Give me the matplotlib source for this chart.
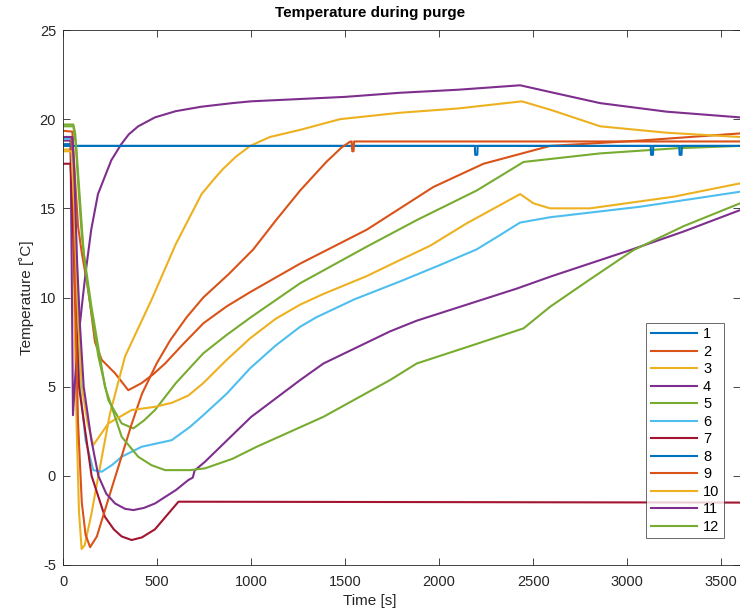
import matplotlib
matplotlib.use("Agg")
import matplotlib.pyplot as plt

plt.rcParams["font.family"] = ["Liberation Sans", "DejaVu Sans"]
plt.rcParams["axes.unicode_minus"] = False

# MATLAB default line colours
colours = ["#0072BD", "#D95319", "#EDB120", "#7E2F8E", "#77AC30",
           "#4DBEEE", "#A2142F"]

# sensor readings: time [s], temperature [C]
t1 = [0, 45, 50, 3600]
y1 = [18.6, 18.6, 18.5, 18.5]

t2 = [0, 50, 62, 80, 100, 135, 170, 206, 277, 347, 418, 480, 543, 640, 746,
      870, 995, 1261, 1615, 1970, 2236, 2590, 3069, 3600]
y2 = [19.35, 19.3, 17.0, 14.0, 12.5, 10.4, 7.5, 6.5, 5.75, 4.8, 5.2, 5.7,
      6.3, 7.4, 8.55, 9.5, 10.3, 11.9, 13.8, 16.2, 17.5, 18.5, 18.8, 19.2]

t3 = [0, 40, 50, 60, 72, 85, 99, 115, 150, 188, 250, 330, 472, 600, 737,
      800, 850, 920, 995, 1100, 1261, 1473, 1792, 2100, 2440, 2600, 2856,
      3210, 3600]
y3 = [18.3, 18.3, 16.0, 10.0, 3.0, -2.0, -4.1, -3.9, -2.2, 0.0, 3.5, 6.7,
      9.9, 13.0, 15.8, 16.6, 17.2, 17.9, 18.5, 19.0, 19.4, 20.0, 20.36,
      20.6, 21.0, 20.5, 19.6, 19.24, 19.0]

t4 = [0, 40, 46, 53, 65, 80, 100, 115, 124, 150, 186, 257, 310, 350, 400,
      489, 600, 737, 900, 1000, 1500, 1792, 2100, 2431, 2600, 2856, 3210,
      3600]
y4 = [18.8, 18.8, 12.0, 3.4, 5.5, 7.5, 9.5, 10.9, 11.7, 13.8, 15.8, 17.7,
      18.6, 19.15, 19.6, 20.1, 20.45, 20.7, 20.9, 21.0, 21.25, 21.48,
      21.65, 21.9, 21.5, 20.9, 20.42, 20.1]

t5 = [0, 55, 65, 80, 100, 133, 188, 241, 312, 374, 430, 489, 600, 746, 870,
      1000, 1261, 1615, 1881, 2200, 2449, 2856, 3264, 3600]
y5 = [19.7, 19.7, 19.2, 16.5, 13.5, 10.4, 6.7, 4.25, 2.94, 2.66, 3.1,
      3.69, 5.2, 6.87, 7.9, 8.9, 10.8, 12.85, 14.34, 16.0, 17.6, 18.08,
      18.37, 18.5]

t6 = [0, 45, 55, 70, 90, 120, 161, 206, 260, 312, 418, 578, 676, 746, 870,
      995, 1130, 1261, 1349, 1550, 1792, 2000, 2200, 2324, 2430, 2590, 3069,
      3600]
y6 = [18.9, 18.9, 16.0, 10.0, 5.0, 2.0, 0.32, 0.23, 0.6, 1.07, 1.63, 2.0,
      2.75, 3.4, 4.6, 6.03, 7.3, 8.36, 8.9, 9.9, 10.9, 11.8, 12.7, 13.5,
      14.2, 14.5, 15.09, 15.93]

t7 = [0, 40, 50, 65, 85, 117, 152, 223, 270, 312, 365, 420, 489, 614, 3600]
y7 = [17.5, 17.5, 15.0, 10.0, 5.0, 2.6, 0.0, -2.3, -3.0, -3.4, -3.6,
      -3.45, -3.0, -1.45, -1.5]

t8 = [0, 2190, 2192, 2203, 2205, 3125, 3127, 3137, 3139, 3277, 3279, 3289,
      3291, 3600]
y8 = [18.5, 18.5, 18.0, 18.0, 18.5, 18.5, 18.0, 18.0, 18.5, 18.5, 18.0,
      18.0, 18.5, 18.5]

t9 = [0, 45, 55, 65, 80, 100, 120, 144, 180, 250, 312, 365, 420, 498, 570,
      658, 746, 880, 1012, 1130, 1261, 1400, 1480, 1527, 1535, 1538, 1545,
      1548, 3600]
y9 = [19.0, 19.0, 16.0, 10.0, 3.0, -1.5, -3.3, -4.0, -3.4, -1.0, 1.1,
      2.9, 4.6, 6.3, 7.6, 8.9, 10.0, 11.3, 12.7, 14.3, 16.0, 17.6, 18.4,
      18.74, 18.75, 18.2, 18.2, 18.75, 18.75]

t10 = [0, 45, 60, 80, 100, 130, 161, 241, 365, 489, 580, 666, 746, 870,
       995, 1130, 1261, 1385, 1615, 1792, 1952, 2147, 2431, 2502, 2590,
       2803, 3246, 3600]
y10 = [18.2, 18.2, 15.0, 9.0, 5.0, 3.0, 1.72, 2.94, 3.69, 3.87, 4.1, 4.5,
       5.2, 6.5, 7.71, 8.8, 9.6, 10.2, 11.2, 12.1, 12.9, 14.16, 15.8,
       15.28, 15.0, 15.0, 15.65, 16.4]

t11 = [0, 50, 60, 75, 90, 110, 151, 188, 230, 277, 330, 374, 430, 489, 600,
       666, 690, 700, 755, 1000, 1261, 1385, 1739, 1881, 2413, 2600, 3000,
       3300, 3600]
y11 = [19.0, 19.0, 17.0, 12.0, 8.5, 5.0, 2.0, 0.0, -1.0, -1.55, -1.85,
       -1.92, -1.8, -1.55, -0.8, -0.24, -0.1, 0.3, 0.79, 3.3, 5.37, 6.3,
       8.1, 8.7, 10.5, 11.2, 12.6, 13.7, 14.9]

t12 = [0, 55, 70, 90, 110, 151, 223, 312, 400, 470, 543, 676, 755, 900,
       1030, 1385, 1739, 1881, 2200, 2449, 2590, 2800, 3034, 3300, 3600]
y12 = [19.6, 19.6, 18.5, 15.5, 12.5, 9.5, 5.0, 2.19, 1.07, 0.6, 0.32,
       0.32, 0.42, 0.95, 1.63, 3.31, 5.37, 6.3, 7.4, 8.27, 9.48, 11.0,
       12.66, 14.0, 15.28]

series = [(t1, y1), (t2, y2), (t3, y3), (t4, y4), (t5, y5), (t6, y6),
          (t7, y7), (t8, y8), (t9, y9), (t10, y10), (t11, y11), (t12, y12)]
labels = [str(i) for i in range(1, 13)]

fig = plt.figure(figsize=(7.4, 6.12), dpi=100)
ax = fig.add_axes([63 / 740, 47 / 612, 677 / 740, 535 / 612])

for i, (t, y) in enumerate(series):
    ax.plot(t, y, color=colours[i % 7], lw=1.5, label=labels[i])

ax.set_xlim(0, 3600)
ax.set_ylim(-5, 25)
ax.set_xticks(range(0, 3501, 500))
ax.set_yticks(range(-5, 26, 5))

grey = "#262626"
for s in ax.spines.values():
    s.set_color(grey)
    s.set_linewidth(0.6)
ax.tick_params(direction="in", top=True, right=True, length=5, width=0.6,
               colors=grey, labelsize=10.5)
ax.tick_params(axis="x", pad=7)
ax.tick_params(axis="y", pad=5)

fig.text(0.5, 1 - 13 / 612, "Temperature during purge", ha="center",
         va="center", fontsize=11, fontweight="bold", color="black")
fig.text(0.5, 1 - 601 / 612, "Time [s]", ha="center", va="center",
         fontsize=11, color=grey)
ax.set_ylabel("Temperature [˚C]", fontsize=11, color=grey, labelpad=4)

leg = ax.legend(loc="lower right", bbox_to_anchor=(0.976, 0.05),
                borderaxespad=0, fancybox=False, fontsize=10.5,
                handlelength=3.2, labelspacing=0.24, handletextpad=0.4,
                borderpad=0.3)
leg.get_frame().set_edgecolor(grey)
leg.get_frame().set_linewidth(0.6)

fig.savefig("out.png", dpi=100)
